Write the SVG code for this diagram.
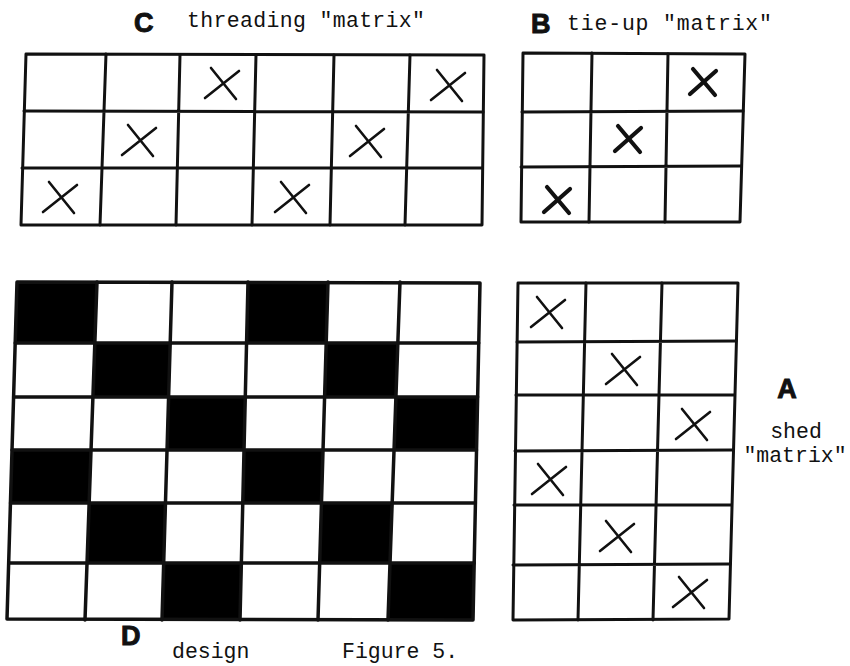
<svg xmlns="http://www.w3.org/2000/svg" xmlns:xlink="http://www.w3.org/1999/xlink" width="850" height="666" viewBox="0 0 850 666">
<style>
.g{fill:none;stroke:#111;stroke-width:3;stroke-linejoin:round;stroke-linecap:round}
.blk{fill:#000;stroke:#000;stroke-width:2}
.x{fill:none;stroke:#111;stroke-width:2.6;stroke-linecap:round}
.xb{fill:none;stroke:#111;stroke-width:4.2;stroke-linecap:round}
.t{font-family:"Liberation Mono","DejaVu Sans Mono",monospace;font-size:21.5px;fill:#111}
.L{font-family:"Liberation Sans","DejaVu Sans",sans-serif;font-weight:bold;font-size:27px;fill:#111;stroke:#111;stroke-width:1}
</style>
<defs>
<path id="X" d="M-17,14 L17,-13 M-11,-16 L14,15"/>
<path id="X2" d="M-13,12 L13,-11 M-10,-13 L12,13"/>
</defs>
<rect width="850" height="666" fill="#fff"/>

<g id="labels">
<text class="L" x="134" y="32">C</text>
<text class="t" x="187" y="27" textLength="238">threading "matrix"</text>
<text class="L" x="531" y="33">B</text>
<text class="t" x="567" y="30" textLength="205">tie-up "matrix"</text>
<text class="L" x="787" y="398" text-anchor="middle">A</text>
<text class="t" x="796" y="438" text-anchor="middle">shed</text>
<text class="t" x="795" y="462" text-anchor="middle">"matrix"</text>
<text class="L" x="121" y="645">D</text>
<text class="t" x="172" y="658">design</text>
<text class="t" x="342" y="658">Figure 5.</text>
</g>

<g id="grid-C">
<polygon class="g" points="26,54 484,55 482,225 21,225"/>
<path class="g" d="M24,111 L483,112 M22,168 L482,168 M106,54 L100,225 M180,55 L176,225 M256,55 L252,225 M334,55 L330,225 M410,55 L405,225"/>
<g class="x">
<use xlink:href="#X" transform="translate(222,84)"/>
<use xlink:href="#X" transform="translate(448,86)"/>
<use xlink:href="#X" transform="translate(139,141)"/>
<use xlink:href="#X" transform="translate(367,142)"/>
<use xlink:href="#X" transform="translate(60,198)"/>
<use xlink:href="#X" transform="translate(292,198)"/>
</g>
</g>

<g id="grid-B">
<polygon class="g" points="523,53 745,54 740,222 521,222"/>
<path class="g" d="M522,112 L743,111 M521,167 L741,166 M592,53 L589,222 M668,54 L665,222"/>
<g class="xb">
<use xlink:href="#X2" transform="translate(703,82)"/>
<use xlink:href="#X2" transform="translate(628,139)"/>
<use xlink:href="#X2" transform="translate(557,200)"/>
</g>
</g>

<g id="grid-D">
<g class="blk">
<polygon points="17,282 97,282 94.8,343 15.2,343"/>
<polygon points="248,282 328,282 326.2,343 246.6,343"/>
<polygon points="94.8,343 170.2,343 168.6,397 92.9,397"/>
<polygon points="326.2,343 397.8,343 395.9,397 324.6,397"/>
<polygon points="168.6,397 245.3,397 244,450 167,450"/>
<polygon points="395.9,397 477.6,397 476.5,450 394,450"/>
<polygon points="12,450 91,450 89.2,503 10.5,503"/>
<polygon points="244,450 323,450 321.5,503 242.8,503"/>
<polygon points="89.2,503 165.5,503 163.7,563 87,563"/>
<polygon points="321.5,503 392.2,503 390,563 319.7,563"/>
<polygon points="163.7,563 241.4,563 240,620 162,620"/>
<polygon points="390,563 474.2,563 473,620 388,620"/>
</g>
<polygon class="g" points="17,282 480,283 473,620 7,619" style="stroke-width:3.5"/>
<path class="g" style="stroke-width:3.5" d="M15.2,343 L478.7,343 M13.6,397 L477.6,397 M12,450 L476.5,450 M10.5,503 L475.4,503 M8.7,563 L474.2,563 M97,282 L85,620 M172,282 L162,620 M248,282 L240,620 M328,282 L318,620 M400,282 L388,620"/>
</g>

<g id="grid-A">
<polygon class="g" points="518,283 738,283 729,619 513,620"/>
<path class="g" d="M517,342 L736,341 M516,395 L734,395 M515,451 L732,450 M514,505 L731,505 M513,565 L730,564 M586,283 L578,620 M662,283 L653,620"/>
<g class="x">
<use xlink:href="#X" transform="translate(548,313)"/>
<use xlink:href="#X" transform="translate(623,370)"/>
<use xlink:href="#X" transform="translate(693,425)"/>
<use xlink:href="#X" transform="translate(549,480)"/>
<use xlink:href="#X" transform="translate(617,537)"/>
<use xlink:href="#X" transform="translate(690,593)"/>
</g>
</g>
</svg>
